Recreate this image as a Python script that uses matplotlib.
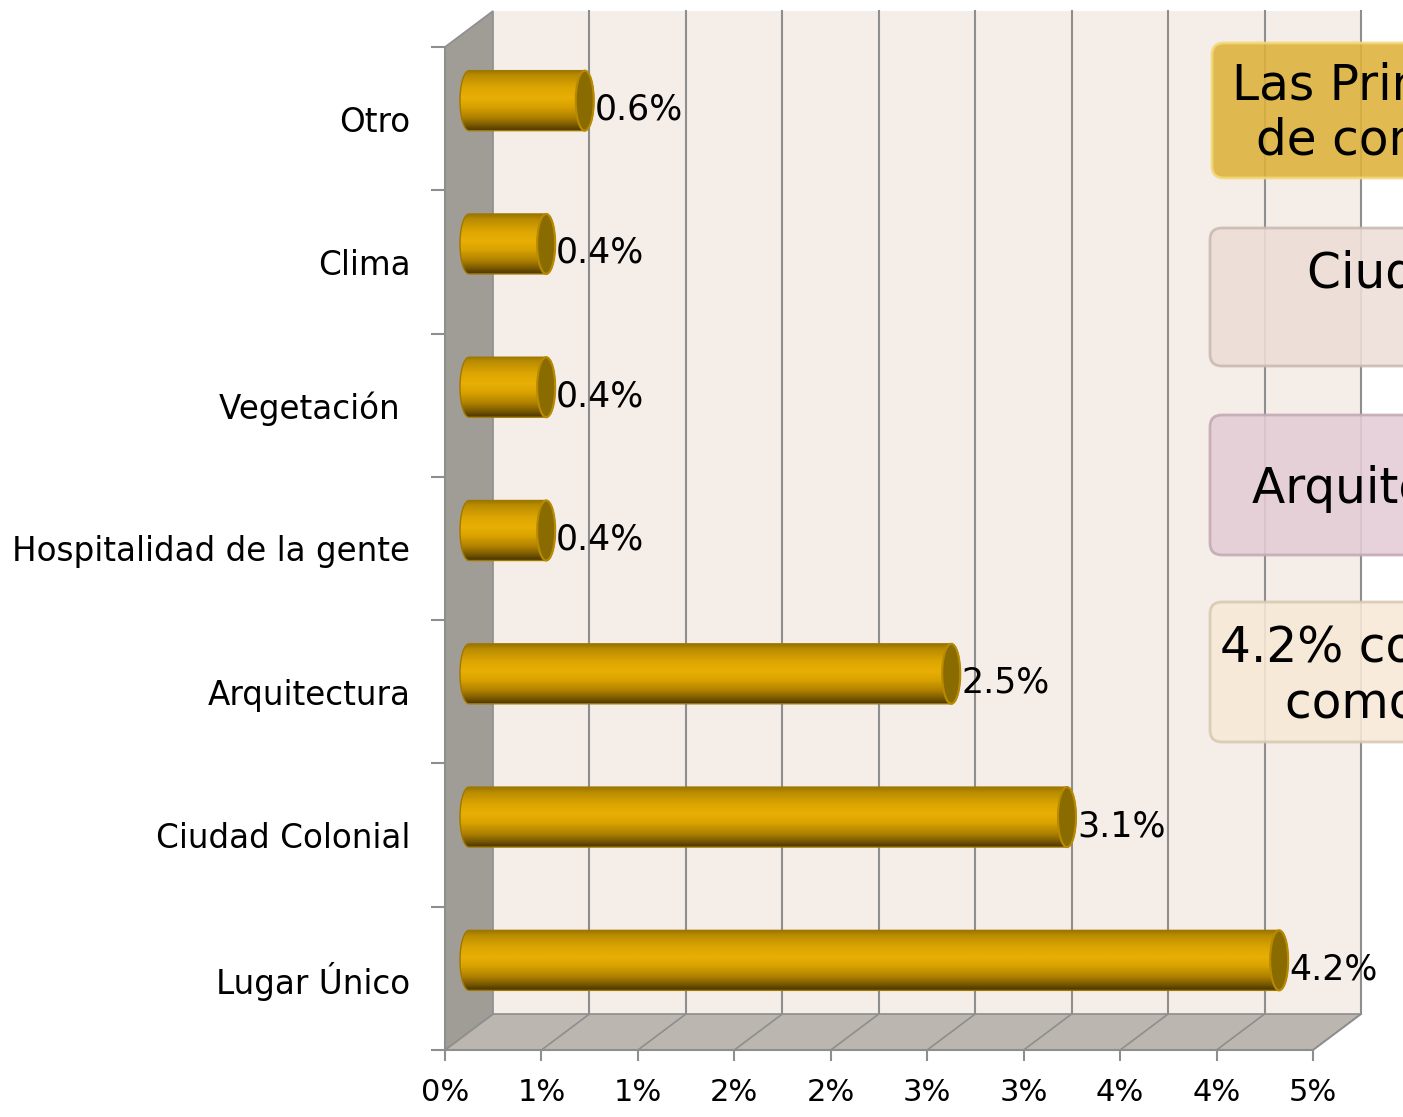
import numpy as np
import matplotlib
matplotlib.use("Agg")
import matplotlib.pyplot as plt
import matplotlib.transforms as mtransforms
from matplotlib.patches import Polygon, Rectangle, Ellipse, PathPatch, FancyBboxPatch
from matplotlib.path import Path
from matplotlib.colors import LinearSegmentedColormap
from matplotlib.ticker import FixedLocator, NullFormatter

# ---------------- data ----------------
categories = ["Lugar Único", "Ciudad Colonial", "Arquitectura",
              "Hospitalidad de la gente", "Vegetación ", "Clima", "Otro"]
values = [4.2, 3.1, 2.5, 0.4, 0.4, 0.4, 0.6]
value_labels = ["4.2%", "3.1%", "2.5%", "0.4%", "0.4%", "0.4%", "0.6%"]
x_ticks = [0.0, 0.5, 1.0, 1.5, 2.0, 2.5, 3.0, 3.5, 4.0, 4.5]
x_tick_labels = ["0%", "1%", "1%", "2%", "2%", "3%", "3%", "4%", "4%", "5%"]
box_lines = [
    ["Las Principales razones", "de compra"],
    ["Ciudad Colonial 3.1%"],
    ["Arquitectura 2.5%"],
    ["4.2% considera", "como Lugar Único"],
]

# ---------------- figure ----------------
W, H = 1403, 1117
fig = plt.figure(figsize=(W / 100, H / 100), dpi=100)
fig.patch.set_facecolor("white")

L, R, T, B = 445, 1313, 47, 1050          # front plane in pixels
ax = fig.add_axes([L / W, (H - B) / H, (R - L) / W, (B - T) / H])
XMAX = 4.5
ax.set_xlim(0, XMAX)
ax.set_ylim(-0.5, len(categories) - 0.5)
ax.set_autoscale_on(False)
ax.patch.set_visible(False)

sx = XMAX / (R - L)                       # data units per pixel (x)
sy = len(categories) / (B - T)            # data units per pixel (y)
DX, DY = 48 * sx, 36 * sy                 # depth offset
y0, y1 = -0.5, len(categories) - 0.5

grid_c = "#8E8E8E"
# back wall
ax.add_patch(Rectangle((DX, y0 + DY), XMAX, y1 - y0, fc="#F5EDE7", ec="none",
                       zorder=0, clip_on=False))
# floor
ax.add_patch(Polygon([(0, y0), (XMAX, y0), (XMAX + DX, y0 + DY), (DX, y0 + DY)],
                     closed=True, fc="#BBB6AF", ec=grid_c, lw=1.2, zorder=0.5,
                     clip_on=False))
# side wall
ax.add_patch(Polygon([(0, y0), (0, y1), (DX, y1 + DY), (DX, y0 + DY)],
                     closed=True, fc="#A09D97", ec=grid_c, lw=1.2, zorder=0.6,
                     clip_on=False))
# gridlines on back wall and floor
for xv in x_ticks[1:]:
    ax.plot([xv + DX, xv + DX], [y0 + DY, y1 + DY], color=grid_c, lw=1.5,
            zorder=0.4, clip_on=False)
    ax.plot([xv, xv + DX], [y0, y0 + DY], color=grid_c, lw=1.2, zorder=0.7,
            clip_on=False)

# ---------------- cylinders ----------------
cmap = LinearSegmentedColormap.from_list("cyl", [
    (0.0, "#9A7400"), (0.08, "#B88B00"), (0.28, "#DCA500"), (0.45, "#E8AF05"),
    (0.6, "#D9A200"), (0.78, "#AE8000"), (0.9, "#7C5B00"), (1.0, "#4A3500")])
grad = np.linspace(0, 1, 200)[:, None]
hh = 30 * sy                 # half height
ea = 9 * sx                  # half width of end ellipses
t = np.linspace(0, np.pi, 40)

for i, (v, lab) in enumerate(zip(values, value_labels)):
    yc = i + DY / 2
    xs = DX / 2
    xe = v + DX / 2
    pts = [(xs, yc + hh), (xe, yc + hh)]
    pts += [(xe + ea * np.sin(a), yc + hh * np.cos(a)) for a in t]
    pts += [(xs, yc - hh)]
    pts += [(xs - ea * np.sin(a), yc - hh * np.cos(a)) for a in t]
    body = PathPatch(Path(pts + [pts[0]]), fc="none", ec="#A07800", lw=1.0,
                     zorder=3.2, clip_on=False)
    ax.add_patch(body)
    im = ax.imshow(grad, extent=(xs - ea, xe + ea, yc - hh, yc + hh), cmap=cmap,
                   aspect="auto", interpolation="bicubic", zorder=3)
    im.set_clip_path(body)
    ax.add_patch(Ellipse((xe, yc), 2 * ea, 2 * hh, fc="#8A6B00", ec="#B88A00",
                         lw=1.5, zorder=3.4, clip_on=False))
    ax.annotate(lab, xy=(xe + ea, yc), xytext=(1, -9), textcoords="offset pixels",
                ha="left", va="center", fontsize=25, color="black", zorder=5)

# ---------------- axes ----------------
for s in ["top", "right"]:
    ax.spines[s].set_visible(False)
for s in ["left", "bottom"]:
    ax.spines[s].set_color(grid_c)
    ax.spines[s].set_linewidth(1.5)

ax.set_xticks(x_ticks)
ax.set_xticklabels(x_tick_labels, fontsize=22)
ax.tick_params(axis="x", direction="out", length=8, width=1.5, color=grid_c, pad=12)

ax.set_yticks(range(len(categories)))
ax.set_yticklabels(categories, fontsize=23.5)
ax.yaxis.set_minor_locator(FixedLocator(np.arange(y0, y1 + 0.01, 1.0)))
ax.yaxis.set_minor_formatter(NullFormatter())
ax.tick_params(axis="y", which="major", length=0, pad=25)
ax.tick_params(axis="y", which="minor", direction="out", length=10, width=1.5, color=grid_c)

# ---------------- side text boxes ----------------
ident = mtransforms.IdentityTransform()
boxes = [  # (x0, top, bottom, face, edge)
    (1212, 43, 178, "#DDB23A", "#F3D878"),
    (1210, 228, 366, "#EDDDD6", "#C9B9B2"),
    (1210, 415, 555, "#E4CCD6", "#C2A9B3"),
    (1210, 602, 742, "#F8E9D6", "#D8C8B2"),
]
for (x0, top, bot, fc, ec) in boxes:
    p = FancyBboxPatch((x0, H - bot), 600, bot - top,
                       boxstyle="round,pad=0,rounding_size=12",
                       fc=fc, ec=ec, lw=2, alpha=0.88, transform=ident, zorder=6)
    fig.add_artist(p)

text_pos = [[(1232, 100), (1256, 155)], [(1307, 288)], [(1252, 503)],
            [(1220, 662), (1285, 718)]]
for lines, poss in zip(box_lines, text_pos):
    for s, (x, yb) in zip(lines, poss):
        fig.text(x, H - yb, s, transform=ident, fontsize=35, ha="left",
                 va="baseline", color="black", zorder=7)

fig.savefig("out.png", dpi=100)
